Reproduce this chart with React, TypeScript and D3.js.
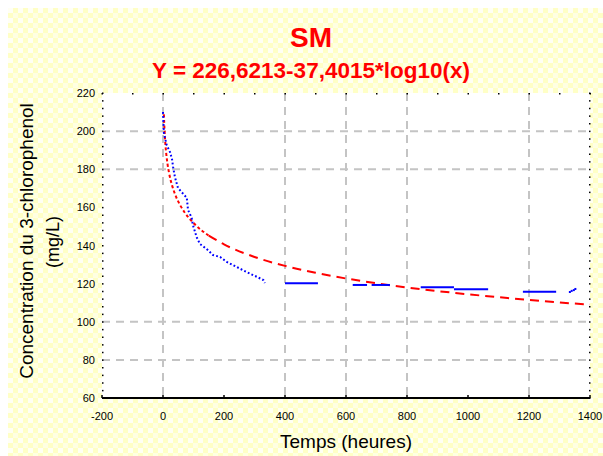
import React from "react";
import * as d3 from "d3";

// ---- data ----
const xTicks = [-200, 0, 200, 400, 600, 800, 1000, 1200, 1400];
const xTickLabels = ["-200", "0", "200", "400", "600", "800", "1000", "1200", "1400"];
const yTicks = [60, 80, 100, 120, 140, 160, 180, 200, 220];
const yTickLabels = ["60", "80", "100", "120", "140", "160", "180", "200", "220"];
const xGridValues = [0, 400, 600, 800, 1200];
const yGridValues = [80, 100, 180, 200];

// observed concentrations (blue)
const obsTimes = [0, 3, 12, 23, 30, 33, 39, 49, 78, 82, 94, 98, 110, 121, 143, 164, 187, 209, 242, 274, 302, 329, 334];
const obsConc = [210, 199, 192.7, 189, 184.9, 181.2, 176, 170.2, 165, 158.7, 154.5, 150.8, 144.5, 140.8, 138.2, 135, 134, 131.4, 128.7, 126.1, 124, 121.9, 120.3];
const plateauStart = [400, 622, 684, 845, 954, 1180];
const plateauEnd = [508, 669, 744, 954, 1066, 1289];
const plateauConc = [120.2, 119.3, 119.3, 118.1, 117.0, 115.8];
const tailTimes = [1334, 1340, 1347, 1352];
const tailConc = [115.6, 116.2, 116.6, 117.2];

// fitted curve (red) Y = 226,6213 - 37,4015*log10(x)
const fitTimes = [3, 4, 5, 7, 10, 15, 20, 30, 40, 55, 70, 100, 150, 200, 300, 400, 500, 600, 700, 800, 900, 1000, 1100, 1200, 1300, 1400];
const fitConc = [208.8, 204.1, 200.5, 195.0, 189.2, 182.6, 178.0, 171.4, 166.7, 161.5, 157.6, 151.8, 145.2, 140.6, 134.0, 129.3, 125.7, 122.7, 120.2, 118.0, 116.1, 114.4, 112.9, 111.4, 110.1, 109.0];

const titleText = "SM";
const subtitleText = "Y = 226,6213-37,4015*log10(x)";
const xTitle = "Temps (heures)";
const yTitle1 = "Concentration du 3-chlorophenol";
const yTitle2 = "(mg/L)";

const W = 603;
const H = 456;
const PL = 102, PR = 590, PT = 93, PB = 398;
const FONT = "'Liberation Sans', Arial, sans-serif";

export default function App() {
  const x = d3.scaleLinear().domain([-200, 1400]).range([PL, PR]);
  const y = d3.scaleLinear().domain([60, 220]).range([PB, PT]);

  const obs = obsTimes.map((t, i) => [t, obsConc[i]] as [number, number]);
  const fit = fitTimes.map((t, i) => [t, fitConc[i]] as [number, number]);
  const fitEarly = fit.filter((d) => d[0] <= 150);
  const fitLate = fit.filter((d) => d[0] >= 150);

  const line = d3
    .line<[number, number]>()
    .x((d) => x(d[0]))
    .y((d) => y(d[1]))
    .curve(d3.curveMonotoneX);
  const lineLin = d3
    .line<[number, number]>()
    .x((d) => x(d[0]))
    .y((d) => y(d[1]));

  const minorY = d3.range(60, 220.1, 4);
  const minorXTop = d3.range(-200, 1400.1, 100);

  return (
    <svg
      width={W}
      height={H}
      style={{ position: "absolute", left: 0, top: 0, background: "#fff" }}
      fontFamily={FONT}
    >
      <defs>
        <pattern id="chk" width="10" height="10" patternUnits="userSpaceOnUse" x="8" y="8">
          <rect width="10" height="10" fill="#FFFFC6" />
          <rect x="0" y="0" width="5" height="5" fill="#FFFFF4" />
          <rect x="5" y="5" width="5" height="5" fill="#FFFFE2" />
        </pattern>
      </defs>
      <rect x={8} y={8} width={W - 8} height={H - 8} fill="url(#chk)" />
      <rect x={PL} y={PT} width={PR - PL} height={PB - PT} fill="#ffffff" />

      {/* grid */}
      {xGridValues.map((v) => (
        <line key={"gx" + v} x1={x(v)} x2={x(v)} y1={PT} y2={PB} stroke="#C4C4C4" strokeWidth={2} strokeDasharray="8,6" />
      ))}
      {yGridValues.map((v) => (
        <line key={"gy" + v} x1={PL} x2={PR} y1={y(v)} y2={y(v)} stroke="#C4C4C4" strokeWidth={2} strokeDasharray="8,6" />
      ))}

      {/* minor tick dots on frame */}
      {minorY.map((v) => (
        <g key={"my" + v}>
          <rect x={PL} y={y(v) - 0.5} width={1.5} height={1.5} fill="#000" />
          <rect x={PR - 1} y={y(v) - 0.5} width={1.5} height={1.5} fill="#000" />
        </g>
      ))}
      {minorXTop.map((v) => (
        <rect key={"mx" + v} x={x(v) - 0.5} y={PT} width={1.5} height={1.5} fill="#000" />
      ))}

      {/* bottom axis */}
      <line x1={PL} x2={PR} y1={PB} y2={PB} stroke="#000" strokeWidth={2} />
      {xTicks.map((v) => (
        <line key={"xt" + v} x1={x(v)} x2={x(v)} y1={PB} y2={PB - 3} stroke="#000" strokeWidth={1.5} />
      ))}

      {/* tick labels */}
      {xTicks.map((v, i) => (
        <text key={"xl" + v} x={x(v)} y={420} fontSize={11} textAnchor="middle" fill="#000">
          {xTickLabels[i]}
        </text>
      ))}
      {yTicks.map((v, i) => (
        <text key={"yl" + v} x={95} y={y(v) + 4} fontSize={11} textAnchor="end" fill="#000">
          {yTickLabels[i]}
        </text>
      ))}

      {/* fitted curve */}
      <path d={line(fitEarly) || ""} fill="none" stroke="#FF0000" strokeWidth={2} strokeDasharray="3,2.5" />
      <path d={line(fitLate) || ""} fill="none" stroke="#FF0000" strokeWidth={2} strokeDasharray="9,6" />

      {/* observed */}
      <path d={lineLin(obs) || ""} fill="none" stroke="#0000FF" strokeWidth={2} strokeDasharray="1.8,2.2" />
      {plateauStart.map((s, i) => (
        <line
          key={"pl" + i}
          x1={x(s)}
          x2={x(plateauEnd[i])}
          y1={y(plateauConc[i])}
          y2={y(plateauConc[i])}
          stroke="#0000FF"
          strokeWidth={2}
        />
      ))}
      {tailTimes.map((t, i) => (
        <rect key={"tl" + i} x={x(t) - 1} y={y(tailConc[i]) - 1} width={2} height={2} fill="#0000FF" />
      ))}

      {/* titles */}
      <text x={311} y={47} fontSize={28} fontWeight="bold" textAnchor="middle" fill="#FF0000">
        {titleText}
      </text>
      <text x={311} y={78} fontSize={22.5} fontWeight="bold" textAnchor="middle" fill="#FF0000">
        {subtitleText}
      </text>
      <text x={346} y={448} fontSize={19} textAnchor="middle" fill="#000">
        {xTitle}
      </text>
      <text transform="translate(33,241) rotate(-90)" fontSize={19} textAnchor="middle" fill="#000">
        {yTitle1}
      </text>
      <text transform="translate(59,242) rotate(-90)" fontSize={18} textAnchor="middle" fill="#000">
        {yTitle2}
      </text>
    </svg>
  );
}
